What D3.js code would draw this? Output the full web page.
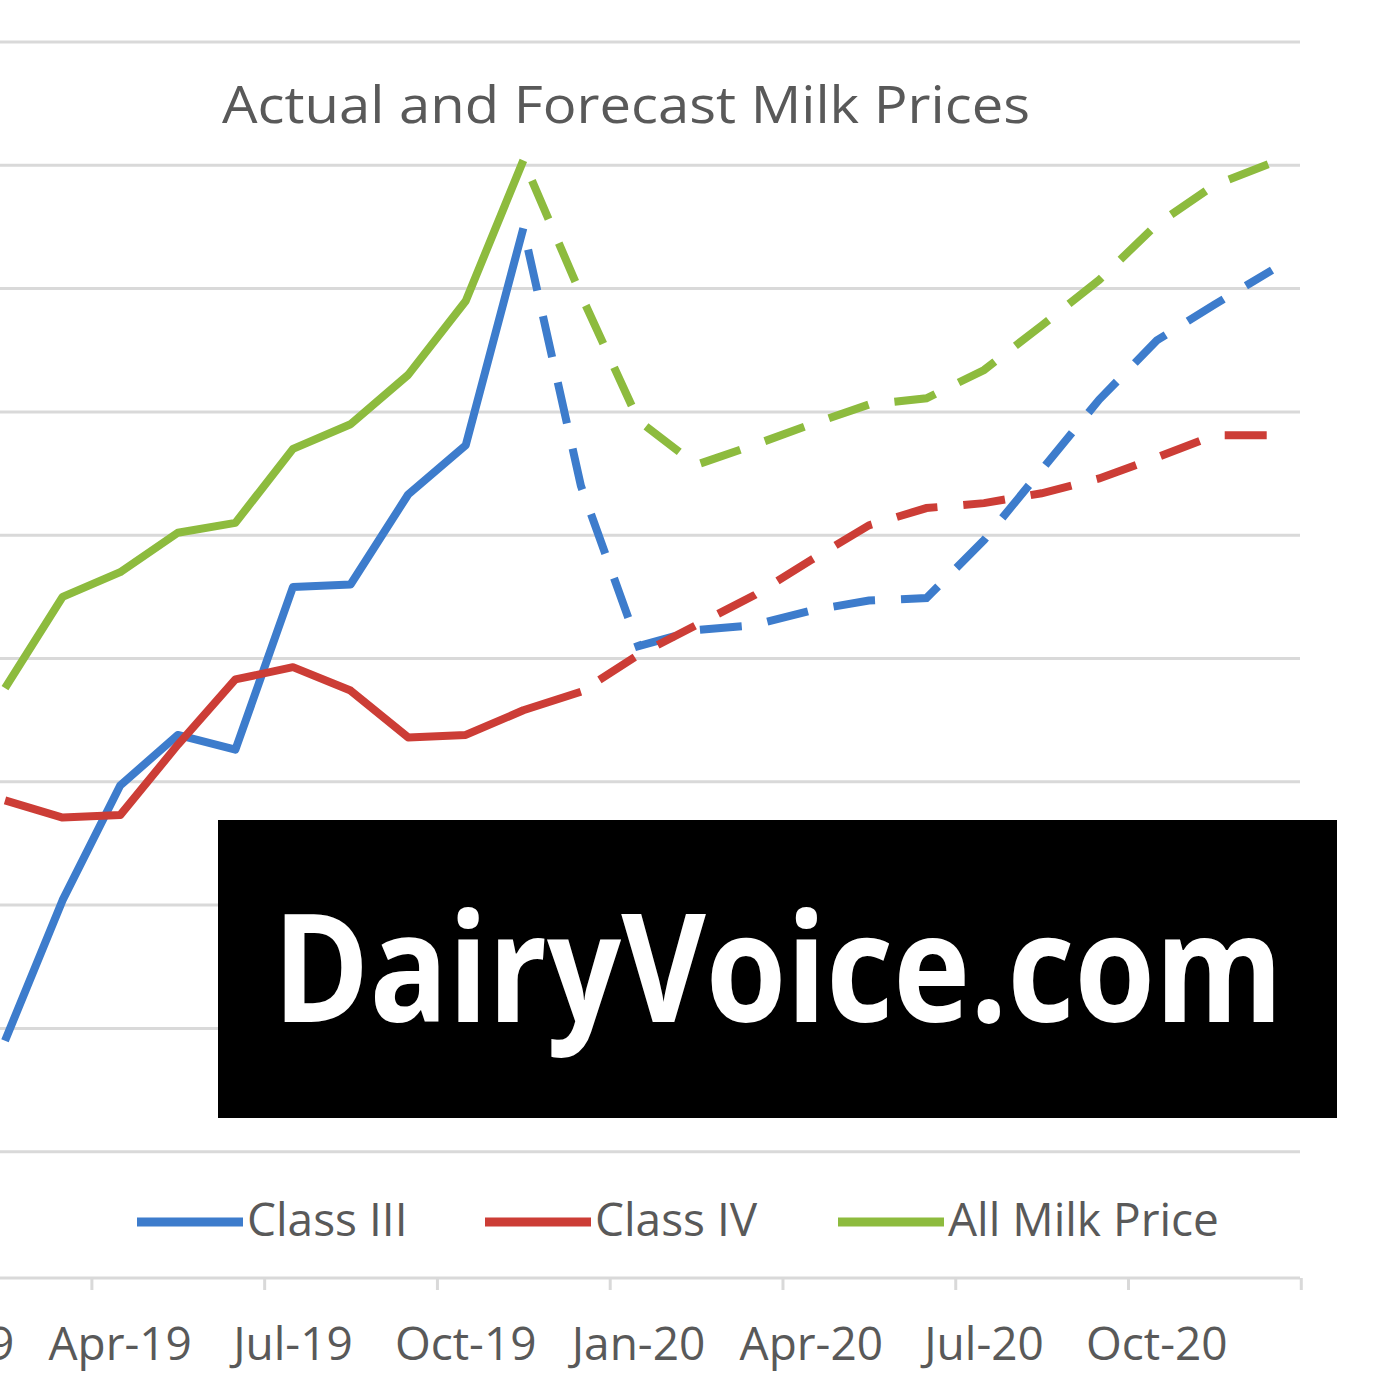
<!DOCTYPE html>
<html>
<head>
<meta charset="utf-8">
<script src="https://cdn.jsdelivr.net/npm/d3@7"></script>
<style>
  body { margin: 0; background: #fff; }
  text { font-family: "Open Sans", "DejaVu Sans", sans-serif; }
</style>
</head>
<body>
<svg id="chart" width="1400" height="1400"></svg>
<script>
// monthly points, Feb-19 .. Dec-20 (index 0 = Feb-19)
const monthCount = 23

const classIII = [13.9, 15.04, 15.97, 16.38, 16.26, 17.58, 17.6, 18.33, 18.73, 20.49,
  18.4, 17.1, 17.23, 17.27, 17.39, 17.47, 17.49, 17.96, 18.53, 19.1, 19.58, 19.87, 20.15]
const classIV = [15.85, 15.71, 15.73, 16.3, 16.83, 16.93, 16.74, 16.36, 16.38, 16.58,
  16.73, 17.03, 17.27, 17.51, 17.8, 18.08, 18.22, 18.26, 18.34, 18.46, 18.63, 18.81, 18.81]
const allMilk = [16.76, 17.5, 17.7, 18.02, 18.1, 18.7, 18.9, 19.3, 19.9, 21.04,
  19.95, 18.93, 18.57, 18.73, 18.9, 19.06, 19.11, 19.34, 19.7, 20.07, 20.52, 20.84, 21.02]
// index of last actual (solid) point
const lastActual = [9, 10, 9]

const seriesNames = ["Class III", "Class IV", "All Milk Price"]
const colors = ["#3d7ccc", "#cc3d36", "#8dbb3e"]
const gridValues = d3.range(13, 23)
// quarter labels and their month index
const quarterLabels = ["Jan-19", "Apr-19", "Jul-19", "Oct-19", "Jan-20", "Apr-20", "Jul-20", "Oct-20"]
const quarterIndex = [-1, 2, 5, 8, 11, 14, 17, 20]

const svg = d3.select("#chart")

const x = d3.scaleLinear().domain([0, monthCount - 1]).range([5, 1272])
const y = d3.scaleLinear().domain([12, 22]).range([1275, 42])

svg.append("g").selectAll("line").data(gridValues).join("line")
  .attr("x1", 0).attr("x2", 1300)
  .attr("y1", (d) => y(d)).attr("y2", (d) => y(d))
  .attr("stroke", "#d9d9d9").attr("stroke-width", 3)

const xAxis = d3.axisBottom(x)
  .tickValues([...quarterIndex.slice(1).map((i) => i - 0.5), monthCount - 0.5])
  .tickFormat("")
  .tickSizeOuter(0)
  .tickSize(12)
const ax = svg.append("g").attr("transform", "translate(0,1278)").call(xAxis)
ax.select(".domain").attr("stroke", "#d9d9d9").attr("stroke-width", 3).attr("d", "M0,0H1300")
ax.selectAll(".tick line").attr("stroke", "#d9d9d9").attr("stroke-width", 3)

svg.append("g").selectAll("text").data(quarterLabels).join("text")
  .attr("x", (d, i) => x(quarterIndex[i])).attr("y", 1360)
  .attr("text-anchor", "middle").attr("font-size", 46).attr("fill", "#595959")
  .text((d) => d)

const line = d3.line().x((d) => x(d.i)).y((d) => y(d.v))

;[classIII, classIV, allMilk].forEach((vals, k) => {
  const pts = vals.map((v, i) => ({ i, v }))
  svg.append("path").datum(pts.slice(0, lastActual[k] + 1))
    .attr("d", line).attr("fill", "none").attr("stroke", colors[k])
    .attr("stroke-width", 8).attr("stroke-linejoin", "round")
  svg.append("path").datum(pts.slice(lastActual[k]))
    .attr("d", line).attr("fill", "none").attr("stroke", colors[k])
    .attr("stroke-width", 8).attr("stroke-dasharray", "42 26").attr("stroke-dashoffset", -22)
})

svg.append("text").attr("x", 626).attr("y", 123).attr("text-anchor", "middle")
  .attr("font-size", 52).attr("fill", "#595959")
  .attr("textLength", 808).attr("lengthAdjust", "spacingAndGlyphs")
  .text("Actual and Forecast Milk Prices")

// legend
const legX = [137, 485, 838]
seriesNames.forEach((n, i) => {
  svg.append("line").attr("x1", legX[i]).attr("x2", legX[i] + 106)
    .attr("y1", 1222).attr("y2", 1222).attr("stroke", colors[i]).attr("stroke-width", 9)
  svg.append("text").attr("x", legX[i] + 110).attr("y", 1236)
    .attr("font-size", 46).attr("fill", "#595959").text(n)
})

// watermark
svg.append("rect").attr("x", 218).attr("y", 820).attr("width", 1119).attr("height", 298).attr("fill", "#000")
svg.append("text").attr("x", 778).attr("y", 1022).attr("text-anchor", "middle")
  .attr("font-family", "DejaVu Sans Condensed, DejaVu Sans, sans-serif")
  .attr("font-weight", "bold").attr("font-size", 150).attr("fill", "#fff")
  .attr("textLength", 1010).attr("lengthAdjust", "spacingAndGlyphs")
  .text("DairyVoice.com")
</script>
</body>
</html>
